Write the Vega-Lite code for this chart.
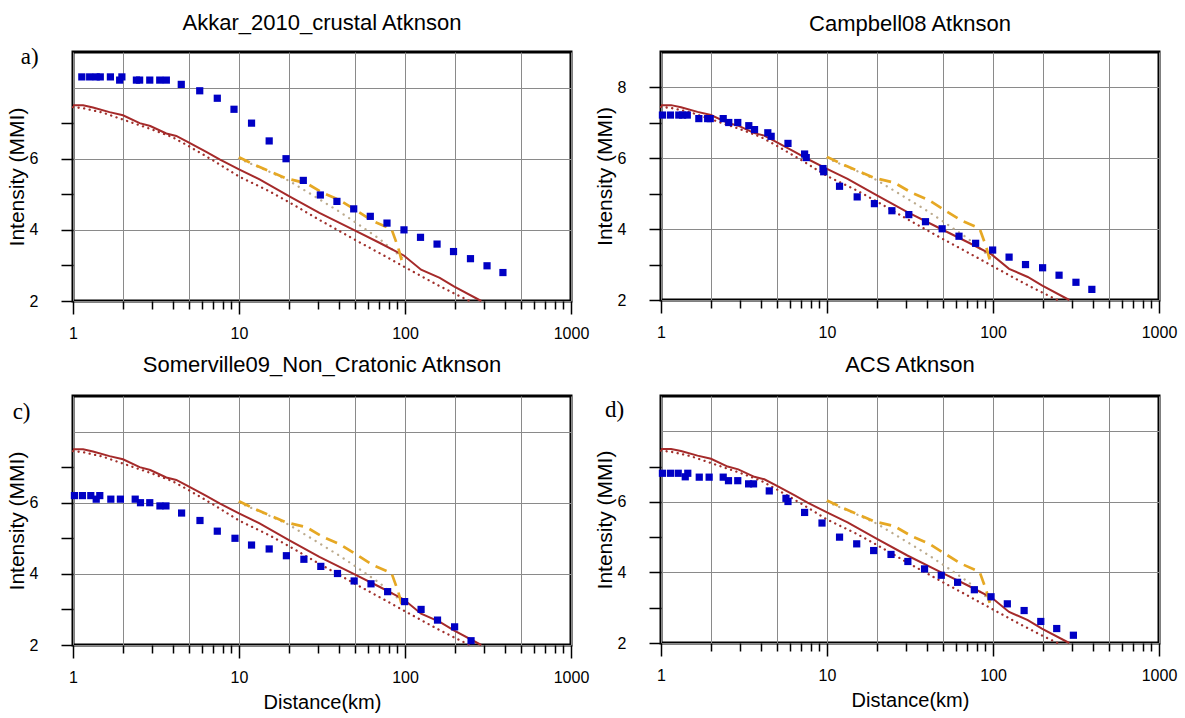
{
  "$schema": "https://vega.github.io/schema/vega-lite/v6.json",
  "background": "white",
  "padding": {"left": 4, "top": 10, "right": 5, "bottom": 3},
  "config": {
    "view": {"stroke": "black", "strokeWidth": 3},
    "title": {"fontSize": 22, "fontWeight": "normal", "font": "Liberation Sans", "color": "black", "anchor": "middle", "frame": "group", "baseline": "alphabetic"},
    "axis": {"labelFont": "Liberation Sans", "titleFont": "Liberation Sans", "labelColor": "black", "titleColor": "black", "titleFontWeight": "normal"}
  },
  "datasets": {
    "curves": [
      {"s": "solid", "d": 1, "v": 7.5}, {"s": "solid", "d": 1.15, "v": 7.5}, {"s": "solid", "d": 1.32, "v": 7.44}, {"s": "solid", "d": 1.66, "v": 7.31}, {"s": "solid", "d": 2, "v": 7.22}, {"s": "solid", "d": 2.52, "v": 7.0}, {"s": "solid", "d": 2.92, "v": 6.92}, {"s": "solid", "d": 3.65, "v": 6.71}, {"s": "solid", "d": 4.19, "v": 6.64}, {"s": "solid", "d": 5, "v": 6.45}, {"s": "solid", "d": 6.35, "v": 6.19}, {"s": "solid", "d": 7.64, "v": 5.98}, {"s": "solid", "d": 10, "v": 5.7}, {"s": "solid", "d": 13.3, "v": 5.42}, {"s": "solid", "d": 20, "v": 4.95}, {"s": "solid", "d": 30.5, "v": 4.48}, {"s": "solid", "d": 49.4, "v": 3.99}, {"s": "solid", "d": 70.6, "v": 3.63}, {"s": "solid", "d": 98.4, "v": 3.28}, {"s": "solid", "d": 125, "v": 2.88}, {"s": "solid", "d": 162, "v": 2.65}, {"s": "solid", "d": 197, "v": 2.41}, {"s": "solid", "d": 288, "v": 2.0},
      {"s": "dot", "d": 1, "v": 7.45}, {"s": "dot", "d": 1.15, "v": 7.42}, {"s": "dot", "d": 1.5, "v": 7.3}, {"s": "dot", "d": 2, "v": 7.1}, {"s": "dot", "d": 3, "v": 6.82}, {"s": "dot", "d": 4, "v": 6.6}, {"s": "dot", "d": 5, "v": 6.35}, {"s": "dot", "d": 7, "v": 5.95}, {"s": "dot", "d": 10, "v": 5.5}, {"s": "dot", "d": 15, "v": 5.1}, {"s": "dot", "d": 20, "v": 4.78}, {"s": "dot", "d": 30, "v": 4.3}, {"s": "dot", "d": 50, "v": 3.72}, {"s": "dot", "d": 70, "v": 3.35}, {"s": "dot", "d": 100, "v": 2.95}, {"s": "dot", "d": 150, "v": 2.5}, {"s": "dot", "d": 200, "v": 2.2}, {"s": "dot", "d": 245, "v": 2.0},
      {"s": "grey", "d": 10, "v": 6.0}, {"s": "grey", "d": 15, "v": 5.65}, {"s": "grey", "d": 20, "v": 5.38}, {"s": "grey", "d": 30, "v": 4.88}, {"s": "grey", "d": 40, "v": 4.52}, {"s": "grey", "d": 50, "v": 4.22}, {"s": "grey", "d": 70, "v": 3.75}, {"s": "grey", "d": 100, "v": 3.15},
      {"s": "dash", "d": 10, "v": 6.04}, {"s": "dash", "d": 12.7, "v": 5.81}, {"s": "dash", "d": 19.2, "v": 5.45}, {"s": "dash", "d": 25.5, "v": 5.31}, {"s": "dash", "d": 32, "v": 5.04}, {"s": "dash", "d": 41, "v": 4.82}, {"s": "dash", "d": 51, "v": 4.54}, {"s": "dash", "d": 64, "v": 4.25}, {"s": "dash", "d": 83, "v": 4.02}, {"s": "dash", "d": 91, "v": 3.5}, {"s": "dash", "d": 97.5, "v": 2.98}
    ],
    "obs": [
      {"p": "a", "d": 1.13, "v": 8.3}, {"p": "a", "d": 1.26, "v": 8.3}, {"p": "a", "d": 1.38, "v": 8.3}, {"p": "a", "d": 1.46, "v": 8.3}, {"p": "a", "d": 1.68, "v": 8.3}, {"p": "a", "d": 1.91, "v": 8.21}, {"p": "a", "d": 1.97, "v": 8.3}, {"p": "a", "d": 2.41, "v": 8.21}, {"p": "a", "d": 2.52, "v": 8.21}, {"p": "a", "d": 2.9, "v": 8.21}, {"p": "a", "d": 3.33, "v": 8.21}, {"p": "a", "d": 3.65, "v": 8.21}, {"p": "a", "d": 4.49, "v": 8.09}, {"p": "a", "d": 5.8, "v": 7.91}, {"p": "a", "d": 7.4, "v": 7.7}, {"p": "a", "d": 9.33, "v": 7.39}, {"p": "a", "d": 11.9, "v": 7.0}, {"p": "a", "d": 15.2, "v": 6.5}, {"p": "a", "d": 19.2, "v": 6.0}, {"p": "a", "d": 24.4, "v": 5.39}, {"p": "a", "d": 30.9, "v": 4.98}, {"p": "a", "d": 38.9, "v": 4.8}, {"p": "a", "d": 49.1, "v": 4.59}, {"p": "a", "d": 61.8, "v": 4.38}, {"p": "a", "d": 77.9, "v": 4.19}, {"p": "a", "d": 98.6, "v": 4.0}, {"p": "a", "d": 124, "v": 3.79}, {"p": "a", "d": 156, "v": 3.6}, {"p": "a", "d": 196, "v": 3.39}, {"p": "a", "d": 248, "v": 3.19}, {"p": "a", "d": 312, "v": 2.99}, {"p": "a", "d": 389, "v": 2.8},
      {"p": "b", "d": 1.02, "v": 7.22}, {"p": "b", "d": 1.14, "v": 7.22}, {"p": "b", "d": 1.28, "v": 7.22}, {"p": "b", "d": 1.35, "v": 7.22}, {"p": "b", "d": 1.44, "v": 7.22}, {"p": "b", "d": 1.69, "v": 7.12}, {"p": "b", "d": 1.91, "v": 7.12}, {"p": "b", "d": 1.98, "v": 7.12}, {"p": "b", "d": 2.37, "v": 7.12}, {"p": "b", "d": 2.56, "v": 7.01}, {"p": "b", "d": 2.9, "v": 7.01}, {"p": "b", "d": 3.38, "v": 6.92}, {"p": "b", "d": 3.66, "v": 6.81}, {"p": "b", "d": 4.4, "v": 6.72}, {"p": "b", "d": 4.61, "v": 6.62}, {"p": "b", "d": 5.82, "v": 6.42}, {"p": "b", "d": 7.33, "v": 6.12}, {"p": "b", "d": 7.5, "v": 6.02}, {"p": "b", "d": 9.46, "v": 5.71}, {"p": "b", "d": 9.55, "v": 5.62}, {"p": "b", "d": 11.9, "v": 5.21}, {"p": "b", "d": 15.2, "v": 4.91}, {"p": "b", "d": 19.3, "v": 4.72}, {"p": "b", "d": 24.6, "v": 4.52}, {"p": "b", "d": 31.1, "v": 4.41}, {"p": "b", "d": 39.2, "v": 4.21}, {"p": "b", "d": 49.4, "v": 4.01}, {"p": "b", "d": 62.4, "v": 3.8}, {"p": "b", "d": 78.6, "v": 3.6}, {"p": "b", "d": 99.5, "v": 3.41}, {"p": "b", "d": 125, "v": 3.21}, {"p": "b", "d": 157, "v": 3.0}, {"p": "b", "d": 199, "v": 2.91}, {"p": "b", "d": 250, "v": 2.7}, {"p": "b", "d": 316, "v": 2.5}, {"p": "b", "d": 394, "v": 2.3},
      {"p": "c", "d": 1.02, "v": 6.2}, {"p": "c", "d": 1.14, "v": 6.2}, {"p": "c", "d": 1.28, "v": 6.2}, {"p": "c", "d": 1.38, "v": 6.1}, {"p": "c", "d": 1.45, "v": 6.2}, {"p": "c", "d": 1.69, "v": 6.1}, {"p": "c", "d": 1.93, "v": 6.1}, {"p": "c", "d": 2.37, "v": 6.1}, {"p": "c", "d": 2.55, "v": 6.0}, {"p": "c", "d": 2.9, "v": 6.0}, {"p": "c", "d": 3.34, "v": 5.91}, {"p": "c", "d": 3.63, "v": 5.91}, {"p": "c", "d": 4.51, "v": 5.71}, {"p": "c", "d": 5.82, "v": 5.5}, {"p": "c", "d": 7.4, "v": 5.2}, {"p": "c", "d": 9.46, "v": 5.0}, {"p": "c", "d": 11.9, "v": 4.81}, {"p": "c", "d": 15.2, "v": 4.7}, {"p": "c", "d": 19.3, "v": 4.51}, {"p": "c", "d": 24.6, "v": 4.41}, {"p": "c", "d": 31.1, "v": 4.21}, {"p": "c", "d": 39.2, "v": 4.01}, {"p": "c", "d": 49.4, "v": 3.8}, {"p": "c", "d": 62.4, "v": 3.72}, {"p": "c", "d": 78.6, "v": 3.5}, {"p": "c", "d": 99.5, "v": 3.22}, {"p": "c", "d": 125, "v": 3.0}, {"p": "c", "d": 157, "v": 2.7}, {"p": "c", "d": 199, "v": 2.51}, {"p": "c", "d": 250, "v": 2.12},
      {"p": "d", "d": 1.02, "v": 6.81}, {"p": "d", "d": 1.14, "v": 6.81}, {"p": "d", "d": 1.27, "v": 6.81}, {"p": "d", "d": 1.4, "v": 6.71}, {"p": "d", "d": 1.45, "v": 6.81}, {"p": "d", "d": 1.7, "v": 6.7}, {"p": "d", "d": 1.95, "v": 6.7}, {"p": "d", "d": 2.37, "v": 6.7}, {"p": "d", "d": 2.55, "v": 6.6}, {"p": "d", "d": 2.9, "v": 6.6}, {"p": "d", "d": 3.37, "v": 6.51}, {"p": "d", "d": 3.61, "v": 6.51}, {"p": "d", "d": 4.49, "v": 6.31}, {"p": "d", "d": 5.66, "v": 6.1}, {"p": "d", "d": 5.82, "v": 6.01}, {"p": "d", "d": 7.33, "v": 5.7}, {"p": "d", "d": 9.33, "v": 5.4}, {"p": "d", "d": 11.9, "v": 5.0}, {"p": "d", "d": 15.1, "v": 4.81}, {"p": "d", "d": 19.1, "v": 4.62}, {"p": "d", "d": 24.3, "v": 4.51}, {"p": "d", "d": 30.7, "v": 4.31}, {"p": "d", "d": 38.7, "v": 4.1}, {"p": "d", "d": 48.8, "v": 3.92}, {"p": "d", "d": 61.2, "v": 3.72}, {"p": "d", "d": 77.2, "v": 3.51}, {"p": "d", "d": 97.3, "v": 3.31}, {"p": "d", "d": 122, "v": 3.11}, {"p": "d", "d": 154, "v": 2.92}, {"p": "d", "d": 194, "v": 2.61}, {"p": "d", "d": 242, "v": 2.41}, {"p": "d", "d": 305, "v": 2.22}
    ],
    "labels": [
      {"p": "a", "t": "a)", "d": 0.548, "v": 8.85},
      {"p": "c", "t": "c)", "d": 0.49, "v": 8.55},
      {"p": "d", "t": "d)", "d": 0.525, "v": 8.6}
    ]
  },
  "vconcat": [
    {
      "hconcat": [
        {
          "width": 498, "height": 249,
          "title": {"text": "Akkar_2010_crustal Atknson", "offset": 11},
          "encoding": {
            "x": {"field": "d", "type": "quantitative", "scale": {"type": "log", "domain": [1, 1000]},
              "axis": {"values": [1,2,3,4,5,6,7,8,9,10,20,30,40,50,60,70,80,90,100,200,300,400,500,600,700,800,900,1000], "format": "d",
                "labelExpr": "indexof([1,10,100,1000], datum.value) >= 0 ? datum.label : ''",
                "labelFlush": false, "labelOverlap": false, "labelBound": false, "labelFontSize": 16, "labelPadding": 11,
                "tickSize": {"condition": {"test": "indexof([1,10,100,1000], datum.value) >= 0", "value": 13}, "value": 8},
                "tickColor": "black", "tickWidth": 1.5, "grid": true, "gridColor": "#8a8a8a", "gridWidth": 1,
                "gridOpacity": {"condition": {"test": "indexof([1,2,5,10,20,50,100,200,500,1000], datum.value) >= 0", "value": 1}, "value": 0},
                "domain": false, "title": null}},
            "y": {"field": "v", "type": "quantitative", "scale": {"domain": [2, 9], "nice": false, "zero": false},
              "axis": {"values": [2,3,4,5,6,7,8], "labelExpr": "indexof([2,4,6], datum.value) >= 0 ? datum.label : ''",
                "tickOpacity": {"condition": {"test": "datum.value == 8", "value": 0}, "value": 1},
                "tickSize": 12, "tickColor": "black", "tickWidth": 1.5, "grid": true, "gridColor": "#8a8a8a",
                "gridOpacity": {"condition": {"test": "datum.value % 2 == 0", "value": 1}, "value": 0},
                "domain": false, "labelFontSize": 16, "labelPadding": 23,
                "title": "Intensity (MMI)", "titleFontSize": 21, "titlePadding": 2}}
          },
          "layer": [
            {"data": {"name": "curves"}, "transform": [{"filter": "datum.s == 'grey'"}], "mark": {"type": "line", "color": "#bcab8e", "strokeWidth": 2.3, "strokeDash": [0.1, 6.5], "strokeCap": "round"}, "encoding": {}},
            {"data": {"name": "curves"}, "transform": [{"filter": "datum.s == 'dot'"}], "mark": {"type": "line", "color": "#a0302c", "strokeWidth": 2.3, "strokeDash": [0.1, 5.5], "strokeCap": "round"}, "encoding": {}},
            {"data": {"name": "curves"}, "transform": [{"filter": "datum.s == 'solid'"}], "mark": {"type": "line", "color": "#a52a2a", "strokeWidth": 2}, "encoding": {}},
            {"data": {"name": "curves"}, "transform": [{"filter": "datum.s == 'dash'"}], "mark": {"type": "line", "color": "#e6a824", "strokeWidth": 2.7, "strokeDash": [12, 7]}, "encoding": {}},
            {"data": {"name": "obs"}, "transform": [{"filter": "datum.p == 'a'"}], "mark": {"type": "point", "shape": "square", "filled": true, "size": 52, "color": "#0000c4", "opacity": 1}, "encoding": {}},
            {"data": {"name": "labels"}, "transform": [{"filter": "datum.p == 'a'"}], "mark": {"type": "text", "font": "Liberation Serif", "fontSize": 23, "color": "black", "align": "center", "baseline": "middle"}, "encoding": {"text": {"field": "t"}}}
          ]
        },
        {
          "width": 498, "height": 248,
          "title": {"text": "Campbell08 Atknson", "offset": 16},
          "encoding": {
            "x": {"field": "d", "type": "quantitative", "scale": {"type": "log", "domain": [1, 1000]},
              "axis": {"values": [1,2,3,4,5,6,7,8,9,10,20,30,40,50,60,70,80,90,100,200,300,400,500,600,700,800,900,1000], "format": "d",
                "labelExpr": "indexof([1,10,100,1000], datum.value) >= 0 ? datum.label : ''",
                "labelFlush": false, "labelOverlap": false, "labelBound": false, "labelFontSize": 16, "labelPadding": 11,
                "tickSize": {"condition": {"test": "indexof([1,10,100,1000], datum.value) >= 0", "value": 13}, "value": 8},
                "tickColor": "black", "tickWidth": 1.5, "grid": true, "gridColor": "#8a8a8a", "gridWidth": 1,
                "gridOpacity": {"condition": {"test": "indexof([1,2,5,10,20,50,100,200,500,1000], datum.value) >= 0", "value": 1}, "value": 0},
                "domain": false, "title": null}},
            "y": {"field": "v", "type": "quantitative", "scale": {"domain": [2, 9], "nice": false, "zero": false},
              "axis": {"values": [2,3,4,5,6,7,8], "labelExpr": "datum.value % 2 == 0 ? datum.label : ''",
                "tickSize": 12, "tickColor": "black", "tickWidth": 1.5, "grid": true, "gridColor": "#8a8a8a",
                "gridOpacity": {"condition": {"test": "datum.value % 2 == 0", "value": 1}, "value": 0},
                "domain": false, "labelFontSize": 16, "labelPadding": 23,
                "title": "Intensity (MMI)", "titleFontSize": 21, "titlePadding": 2}}
          },
          "layer": [
            {"data": {"name": "curves"}, "transform": [{"filter": "datum.s == 'grey'"}], "mark": {"type": "line", "color": "#bcab8e", "strokeWidth": 2.3, "strokeDash": [0.1, 6.5], "strokeCap": "round"}, "encoding": {}},
            {"data": {"name": "curves"}, "transform": [{"filter": "datum.s == 'dot'"}], "mark": {"type": "line", "color": "#a0302c", "strokeWidth": 2.3, "strokeDash": [0.1, 5.5], "strokeCap": "round"}, "encoding": {}},
            {"data": {"name": "curves"}, "transform": [{"filter": "datum.s == 'solid'"}], "mark": {"type": "line", "color": "#a52a2a", "strokeWidth": 2}, "encoding": {}},
            {"data": {"name": "curves"}, "transform": [{"filter": "datum.s == 'dash'"}], "mark": {"type": "line", "color": "#e6a824", "strokeWidth": 2.7, "strokeDash": [12, 7]}, "encoding": {}},
            {"data": {"name": "obs"}, "transform": [{"filter": "datum.p == 'b'"}], "mark": {"type": "point", "shape": "square", "filled": true, "size": 52, "color": "#0000c4", "opacity": 1}, "encoding": {}}
          ]
        }
      ],
      "spacing": 1
    },
    {
      "hconcat": [
        {
          "width": 498, "height": 249,
          "title": {"text": "Somerville09_Non_Cratonic Atknson", "offset": 19},
          "encoding": {
            "x": {"field": "d", "type": "quantitative", "scale": {"type": "log", "domain": [1, 1000]},
              "axis": {"values": [1,2,3,4,5,6,7,8,9,10,20,30,40,50,60,70,80,90,100,200,300,400,500,600,700,800,900,1000], "format": "d",
                "labelExpr": "indexof([1,10,100,1000], datum.value) >= 0 ? datum.label : ''",
                "labelFlush": false, "labelOverlap": false, "labelBound": false, "labelFontSize": 16, "labelPadding": 11,
                "tickSize": {"condition": {"test": "indexof([1,10,100,1000], datum.value) >= 0", "value": 13}, "value": 8},
                "tickColor": "black", "tickWidth": 1.5, "grid": true, "gridColor": "#8a8a8a", "gridWidth": 1,
                "gridOpacity": {"condition": {"test": "indexof([1,2,5,10,20,50,100,200,500,1000], datum.value) >= 0", "value": 1}, "value": 0},
                "domain": false, "title": "Distance(km)", "titleFontSize": 20, "titlePadding": 7}},
            "y": {"field": "v", "type": "quantitative", "scale": {"domain": [2, 9], "nice": false, "zero": false},
              "axis": {"values": [2,3,4,5,6,7,8], "labelExpr": "indexof([2,4,6], datum.value) >= 0 ? datum.label : ''",
                "tickOpacity": {"condition": {"test": "datum.value == 8", "value": 0}, "value": 1},
                "tickSize": 12, "tickColor": "black", "tickWidth": 1.5, "grid": true, "gridColor": "#8a8a8a",
                "gridOpacity": {"condition": {"test": "datum.value % 2 == 0", "value": 1}, "value": 0},
                "domain": false, "labelFontSize": 16, "labelPadding": 23,
                "title": "Intensity (MMI)", "titleFontSize": 21, "titlePadding": 2}}
          },
          "layer": [
            {"data": {"name": "curves"}, "transform": [{"filter": "datum.s == 'grey'"}], "mark": {"type": "line", "color": "#bcab8e", "strokeWidth": 2.3, "strokeDash": [0.1, 6.5], "strokeCap": "round"}, "encoding": {}},
            {"data": {"name": "curves"}, "transform": [{"filter": "datum.s == 'dot'"}], "mark": {"type": "line", "color": "#a0302c", "strokeWidth": 2.3, "strokeDash": [0.1, 5.5], "strokeCap": "round"}, "encoding": {}},
            {"data": {"name": "curves"}, "transform": [{"filter": "datum.s == 'solid'"}], "mark": {"type": "line", "color": "#a52a2a", "strokeWidth": 2}, "encoding": {}},
            {"data": {"name": "curves"}, "transform": [{"filter": "datum.s == 'dash'"}], "mark": {"type": "line", "color": "#e6a824", "strokeWidth": 2.7, "strokeDash": [12, 7]}, "encoding": {}},
            {"data": {"name": "obs"}, "transform": [{"filter": "datum.p == 'c'"}], "mark": {"type": "point", "shape": "square", "filled": true, "size": 52, "color": "#0000c4", "opacity": 1}, "encoding": {}},
            {"data": {"name": "labels"}, "transform": [{"filter": "datum.p == 'c'"}], "mark": {"type": "text", "font": "Liberation Serif", "fontSize": 23, "color": "black", "align": "center", "baseline": "middle"}, "encoding": {"text": {"field": "t"}}}
          ]
        },
        {
          "width": 498, "height": 247,
          "title": {"text": "ACS Atknson", "offset": 19},
          "encoding": {
            "x": {"field": "d", "type": "quantitative", "scale": {"type": "log", "domain": [1, 1000]},
              "axis": {"values": [1,2,3,4,5,6,7,8,9,10,20,30,40,50,60,70,80,90,100,200,300,400,500,600,700,800,900,1000], "format": "d",
                "labelExpr": "indexof([1,10,100,1000], datum.value) >= 0 ? datum.label : ''",
                "labelFlush": false, "labelOverlap": false, "labelBound": false, "labelFontSize": 16, "labelPadding": 11,
                "tickSize": {"condition": {"test": "indexof([1,10,100,1000], datum.value) >= 0", "value": 13}, "value": 8},
                "tickColor": "black", "tickWidth": 1.5, "grid": true, "gridColor": "#8a8a8a", "gridWidth": 1,
                "gridOpacity": {"condition": {"test": "indexof([1,2,5,10,20,50,100,200,500,1000], datum.value) >= 0", "value": 1}, "value": 0},
                "domain": false, "title": "Distance(km)", "titleFontSize": 20, "titlePadding": 7}},
            "y": {"field": "v", "type": "quantitative", "scale": {"domain": [2, 9], "nice": false, "zero": false},
              "axis": {"values": [2,3,4,5,6,7,8], "labelExpr": "indexof([2,4,6], datum.value) >= 0 ? datum.label : ''",
                "tickOpacity": {"condition": {"test": "datum.value == 8", "value": 0}, "value": 1},
                "tickSize": 12, "tickColor": "black", "tickWidth": 1.5, "grid": true, "gridColor": "#8a8a8a",
                "gridOpacity": {"condition": {"test": "datum.value % 2 == 0", "value": 1}, "value": 0},
                "domain": false, "labelFontSize": 16, "labelPadding": 23,
                "title": "Intensity (MMI)", "titleFontSize": 21, "titlePadding": 2}}
          },
          "layer": [
            {"data": {"name": "curves"}, "transform": [{"filter": "datum.s == 'grey'"}], "mark": {"type": "line", "color": "#bcab8e", "strokeWidth": 2.3, "strokeDash": [0.1, 6.5], "strokeCap": "round"}, "encoding": {}},
            {"data": {"name": "curves"}, "transform": [{"filter": "datum.s == 'dot'"}], "mark": {"type": "line", "color": "#a0302c", "strokeWidth": 2.3, "strokeDash": [0.1, 5.5], "strokeCap": "round"}, "encoding": {}},
            {"data": {"name": "curves"}, "transform": [{"filter": "datum.s == 'solid'"}], "mark": {"type": "line", "color": "#a52a2a", "strokeWidth": 2}, "encoding": {}},
            {"data": {"name": "curves"}, "transform": [{"filter": "datum.s == 'dash'"}], "mark": {"type": "line", "color": "#e6a824", "strokeWidth": 2.7, "strokeDash": [12, 7]}, "encoding": {}},
            {"data": {"name": "obs"}, "transform": [{"filter": "datum.p == 'd'"}], "mark": {"type": "point", "shape": "square", "filled": true, "size": 52, "color": "#0000c4", "opacity": 1}, "encoding": {}},
            {"data": {"name": "labels"}, "transform": [{"filter": "datum.p == 'd'"}], "mark": {"type": "text", "font": "Liberation Serif", "fontSize": 23, "color": "black", "align": "center", "baseline": "middle"}, "encoding": {"text": {"field": "t"}}}
          ]
        }
      ],
      "spacing": 1
    }
  ],
  "spacing": 9
}
